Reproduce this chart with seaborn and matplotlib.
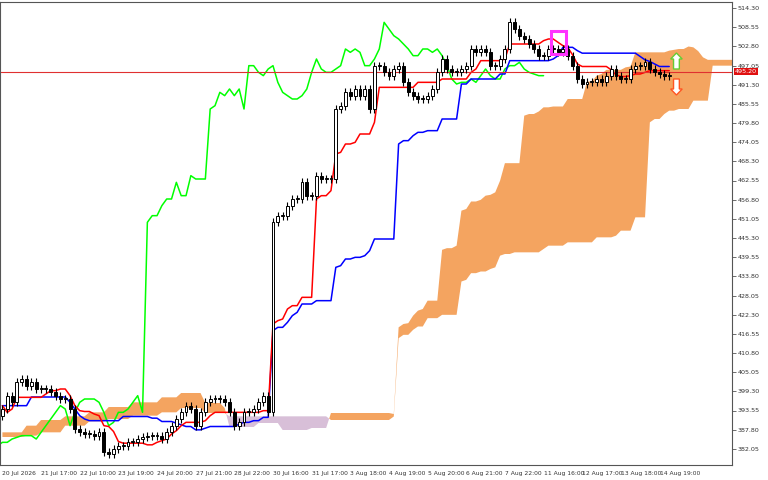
import numpy as np
import pandas as pd
import matplotlib
matplotlib.use("Agg")
import matplotlib.pyplot as plt
import seaborn as sns
from matplotlib.patches import Rectangle, FancyArrow

closes = [394,398,396,402,403,401,402,400,400,400,399,398,397,397,394,388,387,386.5,386.5,386,
          387,381,380.5,382,383,383,384,384,385,385.5,386,386,386,385,387,389,391,393,395,394,
          389,393,396,397,397,397,396,393,389,390,393,393,394,396,398,393,450,452,452,455,
          457,457,462,458,458,464,463,463,463,484,485,489,488,490,488,490,484,497,497,495,
          494,496,497,492,489,488,487,487,488,490,495,499,496,495,495,496,497,502,501,502,
          501,497,497,499,502,510,508,506,505,503.5,502,500,500,502,502,501,502,500,497,493,
          491.5,492,492,493,492,494,496,494,493,493,496,497,497,498,496,495,494.5,494,494]
first_open = 392
span_a_early = ([387]*5 + [389]*3 + [390.7]*5 + [391.8]*5 + [393]*4 + [394.6]*5 + [396]*6 + [397.5]*4
                + [398.8]*5 + [395.8]*4 + [394.3] + [388.6]*6 + [389.8]*5 + [387.7]*6 + [388.3]*4 + [392.8]*13)
span_b_early = ([385.6]*5 + [386]*3 + [387]*5 + [389]*5 + [390.3]*4 + [391]*5 + [392]*6 + [393]*4
                + [394.3]*5 + [392.8]*4 + [392.8] + [391.8]*6 + [391.8]*5 + [391.8]*6 + [391.8]*4 + [390.7]*13)
tenkan_early = [395, 393, 394, 397.5, 397.5, 397.5, 397.5, 397.5]
kijun_early = [395]*6 + [397.6]*8 + [396, 394, 392, 391] + [390.5]*7
price_ticks = [514.30,508.55,502.80,497.05,491.30,485.55,479.80,474.05,468.30,462.55,456.80,451.05,
               445.30,439.55,433.80,428.05,422.30,416.55,410.80,405.05,399.30,393.55,387.80,382.05]
time_labels = ["20 Jul 2026","21 Jul 17:00","22 Jul 10:00","23 Jul 19:00","24 Jul 20:00","27 Jul 21:00",
               "28 Jul 22:00","30 Jul 16:00","31 Jul 17:00","3 Aug 18:00","4 Aug 19:00","5 Aug 20:00",
               "6 Aug 21:00","7 Aug 22:00","11 Aug 16:00","12 Aug 17:00","13 Aug 18:00","14 Aug 19:00"]
current_price = 495.20

n = len(closes)
c = np.array(closes, float)
o = np.concatenate([[first_open], c[:-1]])
wick = 1.2
h = np.maximum(o, c) + wick
l = np.minimum(o, c) - wick
df = pd.DataFrame({"i": np.arange(n), "open": o, "close": c, "high": h, "low": l})

hs, ls = pd.Series(h), pd.Series(l)
tenkan = ((hs.rolling(9).max() + ls.rolling(9).min()) / 2).values
kijun = ((hs.rolling(26).max() + ls.rolling(26).min()) / 2).values
sb = (hs.rolling(52).max() + ls.rolling(52).min()) / 2
total = n + 26
spanA = np.full(total, np.nan); spanB = np.full(total, np.nan)
spanA[26:] = (tenkan + kijun) / 2
spanB[26:] = sb.values
ne = len(span_a_early)
spanA[:ne] = span_a_early; spanB[:ne] = span_b_early
tenkan[:len(tenkan_early)] = tenkan_early
kijun[:len(kijun_early)] = kijun_early

sns.set_style("white")
fig = plt.figure(figsize=(7.68, 4.8), dpi=100)
ax = fig.add_axes([0.0, 15/480, 732/768, 1 - 17/480])
xi = np.arange(total)
ax.fill_between(xi, spanA, spanB, where=spanA >= spanB, color="#F4A460", lw=0, interpolate=True)
ax.fill_between(xi, spanA, spanB, where=spanA < spanB, color="#D8BFD8", lw=0, interpolate=True)

chik = pd.DataFrame({"i": np.arange(n) - 26, "v": c})
sns.lineplot(data=chik, x="i", y="v", color="#00FF00", lw=1.1, ax=ax)
sns.lineplot(x=np.arange(n), y=kijun, color="#0000FF", lw=1.1, ax=ax)
sns.lineplot(x=np.arange(n), y=tenkan, color="#FF0000", lw=1.1, ax=ax)

ax.vlines(df["i"], df["low"], df["high"], color="black", lw=0.8, zorder=3)
up = df["close"] >= df["open"]
ax.bar(df["i"][up], (df["close"] - df["open"])[up].clip(lower=0.3), bottom=df["open"][up], width=0.6,
       color="white", edgecolor="black", lw=0.7, zorder=4)
ax.bar(df["i"][~up], (df["open"] - df["close"])[~up], bottom=df["close"][~up], width=0.6,
       color="black", edgecolor="black", lw=0.7, zorder=4)

ax.axhline(current_price, color="#E03030", lw=0.8, zorder=2)
ax.add_patch(Rectangle((113.5, 500.5), 3.2, 6.8, fill=False, ec="#FF33FF", lw=2.2, zorder=6))
ax.add_patch(FancyArrow(139.5, 496.0, 0, 3.0, width=1.2, head_width=2.4, head_length=1.8,
                        fc="white", ec="#66CC33", lw=1, zorder=6))
ax.add_patch(FancyArrow(139.5, 493.0, 0, -3.0, width=1.2, head_width=2.4, head_length=1.8,
                        fc="white", ec="#FF5522", lw=1, zorder=6))

ax.set_xlim(-0.5, 151)
ax.set_ylim(377.2, 516.1)
ax.yaxis.tick_right()
ax.set_yticks(price_ticks)
ax.set_yticklabels([f"{t:.2f}" for t in price_ticks], fontsize=4.6, color="#333333")
ax.set_xticks(np.arange(0, 8 * len(time_labels), 8))
ax.set_xticklabels(time_labels, fontsize=4.3, color="#333333", ha="left")
ax.tick_params(length=3, width=0.6, color="#555555", pad=1)
ax.set_xlabel(""); ax.set_ylabel("")
for s in ax.spines.values():
    s.set_color("#555555"); s.set_linewidth(0.8)
ax.text(1.004, (current_price - 377.2) / (516.1 - 377.2), f"{current_price:.2f}", transform=ax.transAxes,
        fontsize=4.6, color="white", va="center", ha="left",
        bbox=dict(boxstyle="square,pad=0.15", fc="#E01010", ec="none"))
fig.savefig("out.png", dpi=100)
